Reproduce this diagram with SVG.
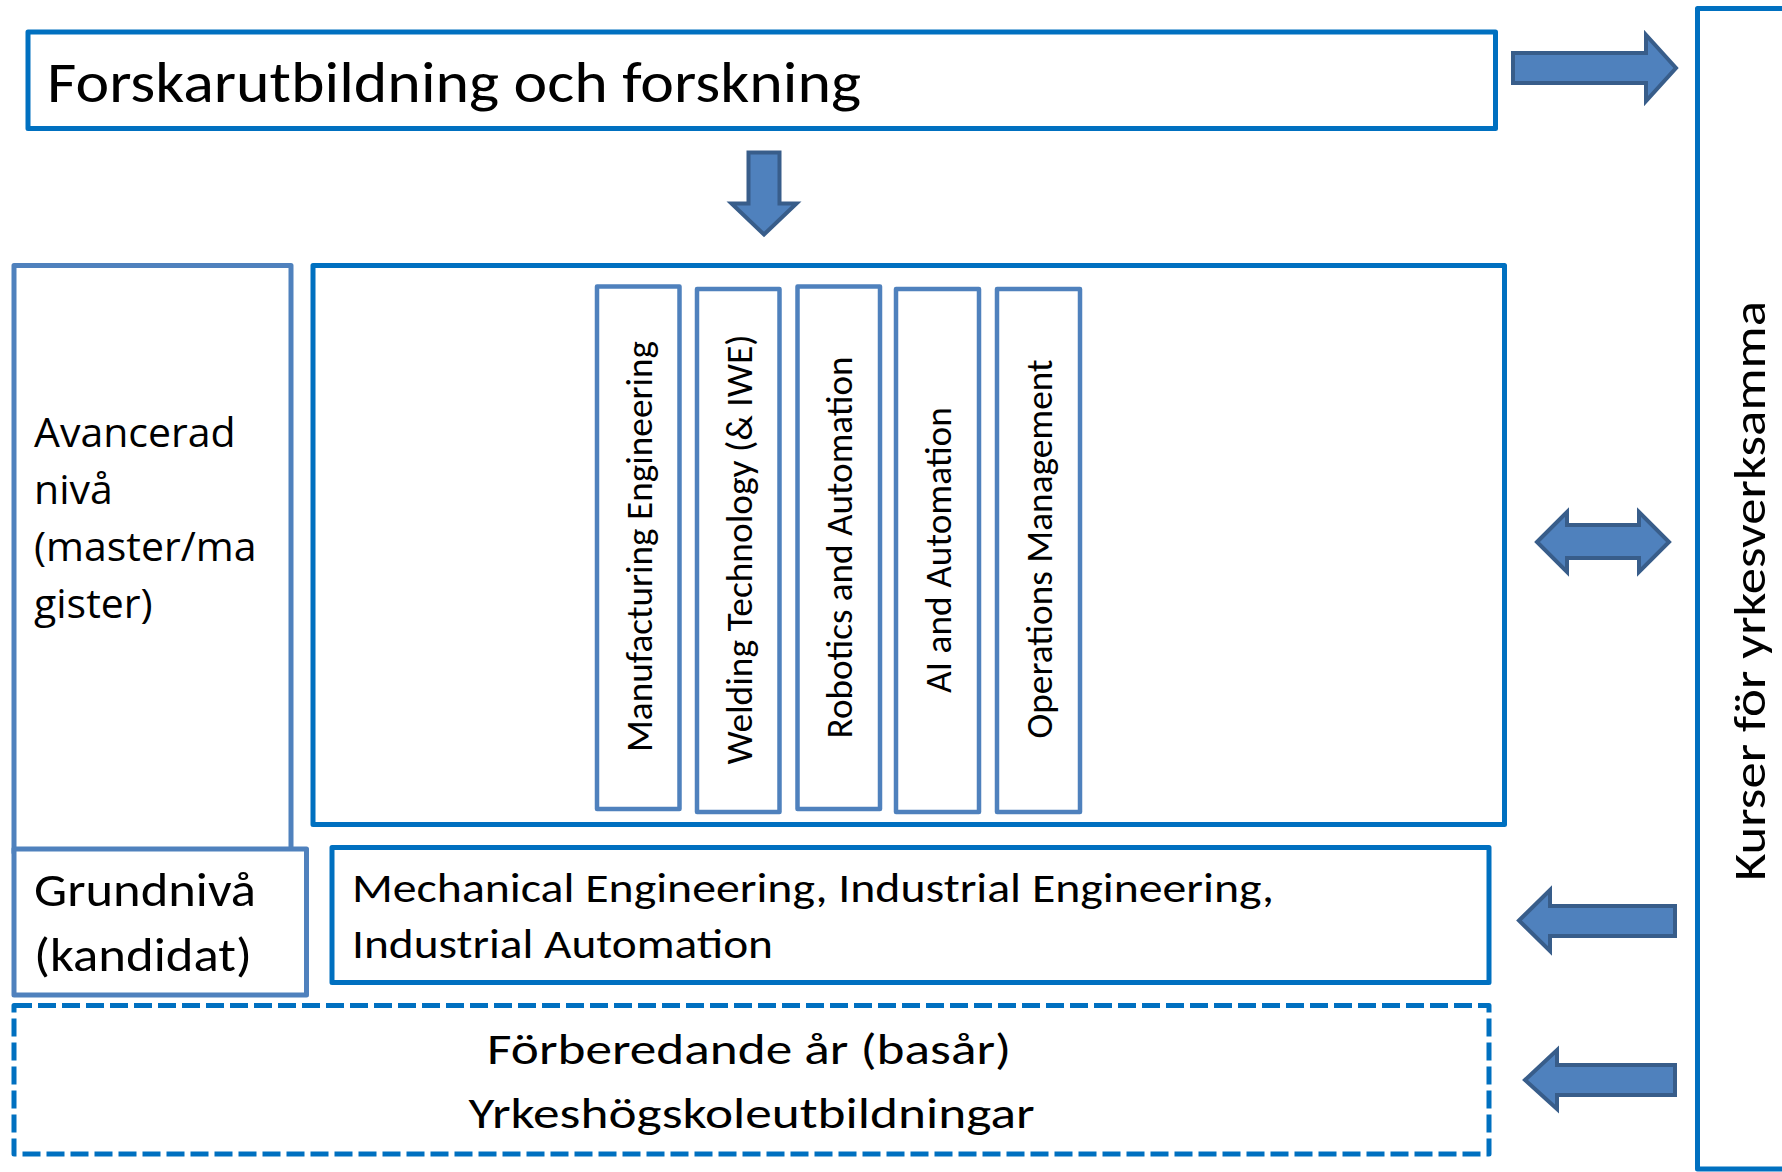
<svg xmlns="http://www.w3.org/2000/svg" width="1782" height="1172" viewBox="0 0 1782 1172">
  <style>
    .box { fill: #ffffff; stroke: #0070C0; stroke-width: 5; stroke-linejoin: round; }
    .box2 { fill: #ffffff; stroke: #4F81BD; stroke-width: 5; stroke-linejoin: round; }
    .prog { fill: #ffffff; stroke: #4F81BD; stroke-width: 4.5; stroke-linejoin: round; }
    .dash { fill: #ffffff; stroke: #0070C0; stroke-width: 5; stroke-dasharray: 18 6; stroke-linejoin: round; }
    .arrow { fill: #4F81BD; stroke: #385D8A; stroke-width: 4; stroke-linejoin: miter; }
    .t { font-family: Carlito, Calibri, Lato, "Liberation Sans", sans-serif; fill: #000000; }
    .o { font-family: "Segoe UI", "Open Sans", "Liberation Sans", sans-serif; fill: #000000; }
  </style>
  <rect width="1782" height="1172" fill="#ffffff"/>

  <g id="node-kurser">
    <rect class="box" x="1697.5" y="8.5" width="130" height="1160.5"/>
    <text class="t" font-size="45" text-anchor="middle" textLength="580" lengthAdjust="spacingAndGlyphs" transform="translate(1765 591) rotate(-90)">Kurser för yrkesverksamma</text>
  </g>

  <g id="node-forskar">
    <rect class="box" x="28" y="32" width="1467.5" height="96.5"/>
    <text class="t" x="47" y="101.7" font-size="57" textLength="814" lengthAdjust="spacingAndGlyphs">Forskarutbildning och forskning</text>
  </g>

  <g id="node-avancerad">
    <rect class="box2" x="14" y="265.5" width="277" height="587"/>
    <text class="o" font-size="41">
      <tspan x="34" y="447">Avancerad</tspan>
      <tspan x="34" y="504">nivå</tspan>
      <tspan x="34" y="561">(master/ma</tspan>
      <tspan x="34" y="618">gister)</tspan>
    </text>
  </g>

  <g id="node-master">
    <rect class="box" x="313" y="265.5" width="1191.5" height="559"/>
  </g>

  <g id="node-manufacturing">
    <rect class="prog" x="597" y="286.5" width="82.5" height="522.5"/>
    <text class="t" font-size="36.5" text-anchor="middle" textLength="411" lengthAdjust="spacingAndGlyphs" transform="translate(651.5 546.5) rotate(-90)">Manufacturing Engineering</text>
  </g>
  <g id="node-welding">
    <rect class="prog" x="697" y="289" width="82.5" height="523"/>
    <text class="t" font-size="36.5" text-anchor="middle" textLength="430" lengthAdjust="spacingAndGlyphs" transform="translate(751.5 549.5) rotate(-90)">Welding Technology (&amp; IWE)</text>
  </g>
  <g id="node-robotics">
    <rect class="prog" x="797.5" y="286.5" width="82.5" height="522.5"/>
    <text class="t" font-size="36.5" text-anchor="middle" textLength="382" lengthAdjust="spacingAndGlyphs" transform="translate(852 547.5) rotate(-90)">Robotics and Automation</text>
  </g>
  <g id="node-ai">
    <rect class="prog" x="896" y="289" width="83" height="523"/>
    <text class="t" font-size="36.5" text-anchor="middle" textLength="286" lengthAdjust="spacingAndGlyphs" transform="translate(950.5 550) rotate(-90)">AI and Automation</text>
  </g>
  <g id="node-operations">
    <rect class="prog" x="997" y="289" width="83" height="523"/>
    <text class="t" font-size="36.5" text-anchor="middle" textLength="379" lengthAdjust="spacingAndGlyphs" transform="translate(1051.5 549) rotate(-90)">Operations Management</text>
  </g>

  <g id="node-grundniva">
    <rect class="box2" x="14" y="849" width="292.5" height="146"/>
    <text class="t" font-size="46.5">
      <tspan x="34" y="906" textLength="222" lengthAdjust="spacingAndGlyphs">Grundnivå</tspan>
      <tspan x="34" y="971" textLength="218" lengthAdjust="spacingAndGlyphs">(kandidat)</tspan>
    </text>
  </g>

  <g id="node-kandidat">
    <rect class="box" x="332" y="847.5" width="1157" height="135"/>
    <text class="t" font-size="40">
      <tspan x="352" y="901.7" textLength="922" lengthAdjust="spacingAndGlyphs">Mechanical Engineering, Industrial Engineering,</tspan>
      <tspan x="352" y="958.3" textLength="421" lengthAdjust="spacingAndGlyphs">Industrial Automation</tspan>
    </text>
  </g>

  <g id="node-forberedande">
    <rect class="dash" x="14" y="1005.5" width="1475" height="148.5"/>
    <text class="t" font-size="43" text-anchor="middle">
      <tspan x="754" y="1063.5" textLength="524" lengthAdjust="spacingAndGlyphs">Förberedande år (basår)</tspan>
      <tspan x="751.5" y="1127.5" textLength="566" lengthAdjust="spacingAndGlyphs">Yrkeshögskoleutbildningar</tspan>
    </text>
  </g>

  <g id="connectors">
    <polygon class="arrow" points="748.5,152.5 779.5,152.5 779.5,203.5 796.5,203.5 764,234.5 731.5,203.5 748.5,203.5"/>
    <polygon class="arrow" points="1513,53 1646,53 1646,35 1676,68 1646,101 1646,83 1513,83"/>
    <polygon class="arrow" points="1537,542 1567,512 1567,525 1639,525 1639,512 1669,542 1639,572 1639,558 1567,558 1567,572"/>
    <polygon class="arrow" points="1519,920.5 1550,890 1550,906 1675,906 1675,936 1550,936 1550,951"/>
    <polygon class="arrow" points="1525,1080 1557,1050 1557,1065 1675,1065 1675,1095 1557,1095 1557,1109"/>
  </g>
</svg>
